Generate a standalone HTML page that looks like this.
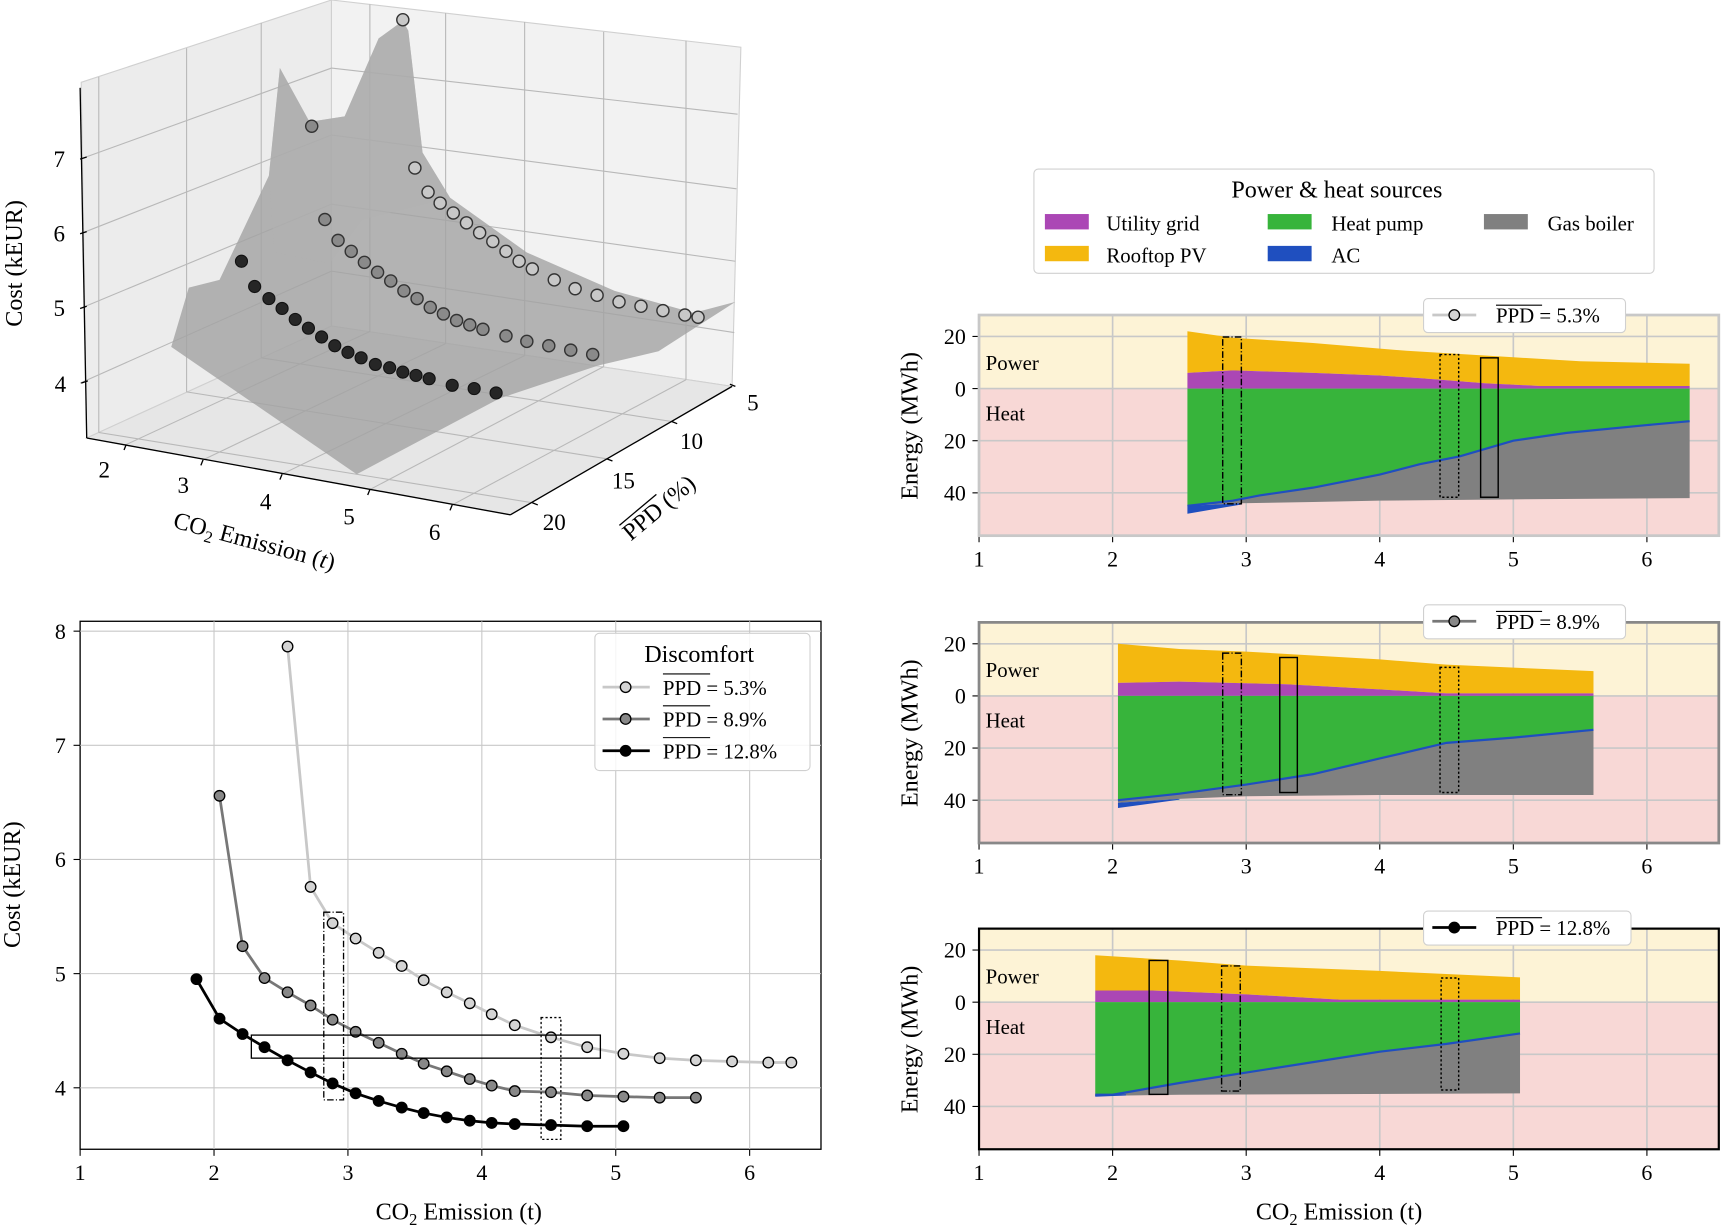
<!DOCTYPE html>
<html><head><meta charset="utf-8">
<style>
html,body{margin:0;padding:0;background:#fff;}
svg{display:block;}
text{font-family:"Liberation Serif",serif;fill:#000;}
</style></head>
<body>
<svg id="s" xmlns="http://www.w3.org/2000/svg" width="1721" height="1225" viewBox="0 0 1568 1116" preserveAspectRatio="none">
<polygon points="74,75 302,0 302,297 79,399" fill="#ececec" stroke="#d0d0d0"/>
<polygon points="302,0 675,43 667,352 302,297" fill="#f2f2f2" stroke="#d0d0d0"/>
<polygon points="79,399 302,297 667,352 465,469" fill="#e6e6e6" stroke="#d0d0d0"/>
<g stroke="#b8b8b8" stroke-width="1" fill="none">
<line x1="73" y1="145" x2="302" y2="62"/><line x1="73" y1="213" x2="302" y2="123"/>
<line x1="73" y1="281" x2="302" y2="186"/><line x1="73" y1="349" x2="302" y2="247"/>
<line x1="302" y1="62" x2="672" y2="104"/><line x1="302" y1="123" x2="671" y2="172"/>
<line x1="302" y1="186" x2="670" y2="238"/><line x1="302" y1="247" x2="669" y2="303"/>
<line x1="90" y1="70" x2="90" y2="394"/><line x1="170" y1="44" x2="170" y2="357"/><line x1="238" y1="21" x2="238" y2="326"/>
<line x1="337" y1="4" x2="337" y2="302"/><line x1="406" y1="12" x2="406" y2="313"/><line x1="478" y1="20" x2="478" y2="324"/><line x1="550" y1="29" x2="550" y2="334"/><line x1="625" y1="37" x2="625" y2="346"/>
<line x1="115" y1="405" x2="337" y2="302"/><line x1="185" y1="419" x2="406" y2="313"/><line x1="257" y1="432" x2="478" y2="324"/><line x1="337" y1="446" x2="550" y2="334"/><line x1="412" y1="460" x2="625" y2="346"/>
<line x1="612" y1="384" x2="238" y2="326"/><line x1="553" y1="418" x2="170" y2="357"/><line x1="485" y1="458" x2="90" y2="394"/>
</g>
<polygon points="156,316 172,262 200,255 245,160 255,62 282,111 314,106 345,35 367,19 372,28 385,139 410,180 480,230 560,265 632,285 670,275 600,320 545,333 455,363 325,432" fill="#a2a2a2" fill-opacity="0.8"/>
<polygon points="245,160 255,62 282,111 314,106 345,35 367,19 372,28 385,139 410,180 330,200 300,240 250,230" fill="#b0b0b0" fill-opacity="0.6"/>
<g stroke="#000" stroke-width="1.2">
<line x1="73" y1="80" x2="79" y2="399"/>
<line x1="79" y1="399" x2="465" y2="469"/>
<line x1="465" y1="469" x2="667" y2="352"/>
<line x1="73" y1="145" x2="79" y2="143"/><line x1="73" y1="213" x2="79" y2="211"/><line x1="73" y1="281" x2="79" y2="279"/><line x1="74" y1="349" x2="80" y2="347"/>
<line x1="115" y1="405" x2="113" y2="410"/><line x1="185" y1="419" x2="183" y2="424"/><line x1="257" y1="432" x2="255" y2="437"/><line x1="337" y1="446" x2="335" y2="451"/><line x1="412" y1="460" x2="410" y2="465"/>
<line x1="665" y1="350" x2="670" y2="352"/><line x1="612" y1="384" x2="617" y2="386"/><line x1="553" y1="418" x2="558" y2="420"/><line x1="485" y1="458" x2="490" y2="460"/>
</g>
<g font-size="21" text-anchor="middle">
<text x="54" y="152">7</text><text x="54" y="220">6</text><text x="54" y="288">5</text><text x="55" y="357">4</text>
<text x="95" y="435">2</text><text x="167" y="449">3</text><text x="242" y="464">4</text><text x="318" y="478">5</text><text x="396" y="492">6</text>
<text x="686" y="374">5</text><text x="630" y="409">10</text><text x="568" y="445">15</text><text x="505" y="483">20</text>
</g>
<text font-size="22" transform="translate(20,240) rotate(-90)" text-anchor="middle">Cost (kEUR)</text>
<text font-size="22" transform="translate(230,500) rotate(15)" text-anchor="middle">CO<tspan font-size="15" dy="5">2</tspan><tspan dy="-5"> Emission (</tspan><tspan font-style="italic">t</tspan>)</text>
<g transform="translate(605,468) rotate(-40)"><text font-size="22" text-anchor="middle">PPD (%)</text><line x1="-38" y1="-18" x2="6" y2="-18" stroke="#000" stroke-width="1.2"/></g>
<g id="dots3d"></g>

<rect x="73" y="566" width="675" height="481" fill="#fff" stroke="#000" stroke-width="1.2"/>
<g id="bl"></g>

<rect x="942" y="154" width="565" height="95" rx="4" fill="#fff" stroke="#d0d0d0"/>
<text x="1218" y="180" font-size="22" text-anchor="middle">Power &amp; heat sources</text>
<rect x="952" y="195" width="40" height="14" fill="#ab47b5"/><text x="1008" y="210" font-size="19">Utility grid</text>
<rect x="952" y="224" width="40" height="14" fill="#f4b80f"/><text x="1008" y="239" font-size="19">Rooftop PV</text>
<rect x="1155" y="195" width="40" height="14" fill="#37b43b"/><text x="1213" y="210" font-size="19">Heat pump</text>
<rect x="1155" y="224" width="40" height="14" fill="#1f4fbf"/><text x="1213" y="239" font-size="19">AC</text>
<rect x="1352" y="195" width="40" height="14" fill="#808080"/><text x="1410" y="210" font-size="19">Gas boiler</text>
<g id="panels"></g>
<text x="1220" y="1111" font-size="22" text-anchor="middle">CO<tspan font-size="15" dy="5">2</tspan><tspan dy="-5"> Emission (t)</tspan></text>
<text x="418" y="1111" font-size="22" text-anchor="middle">CO<tspan font-size="15" dy="5">2</tspan><tspan dy="-5"> Emission (t)</tspan></text>
</svg>
<script>
var NS="http://www.w3.org/2000/svg";
function el(p,tag,a,txt){var e=document.createElementNS(NS,tag);for(var k in a)e.setAttribute(k,a[k]);if(txt!==undefined)e.textContent=txt;p.appendChild(e);return e;}
var d3=document.getElementById('dots3d');
var L=[[367,18],[378,153],[390,175],[401,185],[413,194],[425,203],[437,212],[449,220],[461,229],[473,238],[485,245],[505,255],[524,263],[544,269],[564,275],[584,279],[604,283],[624,287],[636,289]];
var M=[[284,115],[296,200],[308,219],[320,229],[332,239],[344,248],[356,256],[368,265],[380,272],[392,280],[404,286],[416,292],[428,296],[440,300],[461,306],[480,311],[500,315],[520,319],[540,323]];
var D=[[220,238],[232,261],[245,272],[257,281],[269,291],[281,299],[293,307],[305,315],[317,321],[329,326],[342,332],[355,335],[367,339],[379,342],[391,345],[412,351],[432,354],[452,358]];
D.forEach(function(p){el(d3,'circle',{cx:p[0],cy:p[1],r:5.5,fill:'#262626',stroke:'#111','stroke-width':1});});
M.forEach(function(p){el(d3,'circle',{cx:p[0],cy:p[1],r:5.5,fill:'#8a8a8a',stroke:'#333','stroke-width':1.3});});
L.forEach(function(p){el(d3,'circle',{cx:p[0],cy:p[1],r:5.5,fill:'#c8c8c8',stroke:'#333','stroke-width':1.3});});
var bl=document.getElementById('bl');
var xs=[73,195,317,439,561,683];
xs.forEach(function(x,i){if(i>0)el(bl,'line',{x1:x,y1:566,x2:x,y2:1047,stroke:'#c8c8c8'});el(bl,'line',{x1:x,y1:1047,x2:x,y2:1053,stroke:'#000'});el(bl,'text',{x:x,y:1075,'font-size':20,'text-anchor':'middle'},String(i+1));});
[[8,575],[7,679],[6,783],[5,887],[4,991]].forEach(function(t){el(bl,'line',{x1:73,y1:t[1],x2:748,y2:t[1],stroke:'#c8c8c8'});el(bl,'line',{x1:67,y1:t[1],x2:73,y2:t[1],stroke:'#000'});el(bl,'text',{x:60,y:t[1]+7,'font-size':20,'text-anchor':'end'},String(t[0]));});
el(bl,'text',{'font-size':22,'text-anchor':'middle',transform:'translate(18,806) rotate(-90)'},'Cost (kEUR)');
var c1=[[262,589],[283,808],[303,841],[324,855],[345,868],[366,880],[386,893],[407,904],[428,914],[448,924],[469,934],[502,945],[535,954],[568,960],[601,964],[634,966],[667,967],[700,968],[721,968]];
var c2=[[200,725],[221,862],[241,891],[262,904],[283,916],[303,929],[324,940],[345,950],[366,960],[386,969],[407,976],[428,983],[448,989],[469,994],[502,995],[535,998],[568,999],[601,1000],[634,1000]];
var c3=[[179,892],[200,928],[221,942],[241,954],[262,966],[283,977],[303,987],[324,996],[345,1003],[366,1009],[386,1014],[407,1018],[428,1021],[448,1023],[469,1024],[502,1025],[535,1026],[568,1026]];
function curve(c,lc,fc,lw){el(bl,'polyline',{points:c.map(function(p){return p.join(',')}).join(' '),fill:'none',stroke:lc,'stroke-width':lw});c.forEach(function(p){el(bl,'circle',{cx:p[0],cy:p[1],r:4.8,fill:fc,stroke:'#000','stroke-width':1.2});});}
curve(c1,'#c8c8c8','#d4d4d4',2.5);curve(c2,'#777','#888',2.5);curve(c3,'#000','#000',2.5);
el(bl,'rect',{x:295,y:831,width:18,height:171,fill:'none',stroke:'#000','stroke-dasharray':'6,2,1,2','stroke-width':1.2});
el(bl,'rect',{x:493,y:927,width:18,height:111,fill:'none',stroke:'#000','stroke-dasharray':'2,2','stroke-width':1.2});
el(bl,'rect',{x:229,y:943,width:318,height:21,fill:'none',stroke:'#000','stroke-width':1.2});
el(bl,'rect',{x:542,y:577,width:196,height:125,rx:4,fill:'#fff','fill-opacity':0.85,stroke:'#d0d0d0'});
el(bl,'text',{x:637,y:603,'font-size':22,'text-anchor':'middle'},'Discomfort');
[['#c8c8c8','#d4d4d4','5.3%',626],['#777','#888','8.9%',655],['#000','#000','12.8%',684]].forEach(function(r){
el(bl,'line',{x1:549,y1:r[3],x2:592,y2:r[3],stroke:r[0],'stroke-width':2.5});
el(bl,'circle',{cx:570,cy:r[3],r:4.8,fill:r[1],stroke:'#000','stroke-width':1.2});
el(bl,'text',{x:604,y:r[3]+7,'font-size':19},'PPD = '+r[2]);
el(bl,'line',{x1:604,y1:r[3]-12,x2:647,y2:r[3]-12,stroke:'#000','stroke-width':1});});
var pg=document.getElementById('panels');
function X(t){return 892+(t-1)*121.7;}
function poly(a,b,y0){var pts=a.map(function(p){return X(p[0])+','+(y0-p[1]*2.375)});var r=b.slice().reverse().map(function(p){return X(p[0])+','+(y0-p[1]*2.375)});return pts.concat(r).join(' ');}
function panel(y0,frame,fw,D,rects,lg,mk,lab){
 var top=y0-67,bot=y0+134;
 el(pg,'rect',{x:892,y:top,width:674,height:67,fill:'#fdf3d6'});
 el(pg,'rect',{x:892,y:y0,width:674,height:134,fill:'#f8d8d6'});
 [1,2,3,4,5,6].forEach(function(t){el(pg,'line',{x1:X(t),y1:top,x2:X(t),y2:bot,stroke:'#c8c8c8','stroke-width':1.5});el(pg,'line',{x1:X(t),y1:bot,x2:X(t),y2:bot+6,stroke:'#000'});el(pg,'text',{x:X(t),y:bot+28,'font-size':20,'text-anchor':'middle'},String(t));});
 [20,0,-20,-40].forEach(function(v){var y=y0-v*2.375;el(pg,'line',{x1:892,y1:y,x2:1566,y2:y,stroke:'#c8c8c8','stroke-width':1.5});el(pg,'line',{x1:886,y1:y,x2:892,y2:y,stroke:'#000'});el(pg,'text',{x:880,y:y+7,'font-size':20,'text-anchor':'end'},String(Math.abs(v)));});
 var x0=D.o[0][0],x1=D.o[D.o.length-1][0];var zero=[[x0,0],[x1,0]];
 el(pg,'polygon',{points:poly(D.o,D.p,y0),fill:'#f4b80f'});
 el(pg,'polygon',{points:poly(D.p,zero,y0),fill:'#ab47b5'});
 el(pg,'polygon',{points:poly(zero,D.g,y0),fill:'#37b43b'});
 el(pg,'polygon',{points:poly(D.g,D.b,y0),fill:'#808080'});
 el(pg,'polygon',{points:poly(D.bw1,D.bw2,y0),fill:'#1f4fbf'});
 el(pg,'polyline',{points:D.g.map(function(p){return X(p[0])+','+(y0-p[1]*2.375)}).join(' '),fill:'none',stroke:'#1f4fbf','stroke-width':2});
 rects.forEach(function(r){var a={x:r[0],y:r[1],width:r[2]-r[0],height:r[3]-r[1],fill:'none',stroke:'#000','stroke-width':1.3};if(r[4])a['stroke-dasharray']=r[4];el(pg,'rect',a);});
 el(pg,'rect',{x:892,y:top,width:674,height:201,fill:'none',stroke:frame,'stroke-width':fw});
 el(pg,'text',{x:898,y:y0-17,'font-size':19},'Power');
 el(pg,'text',{x:898,y:y0+29,'font-size':19},'Heat');
 el(pg,'text',{'font-size':22,'text-anchor':'middle',transform:'translate(836,'+(y0+34)+') rotate(-90)'},'Energy (MWh)');
 el(pg,'rect',{x:lg[0],y:lg[1],width:lg[2],height:31,rx:4,fill:'#fff',stroke:'#d0d0d0'});
 el(pg,'line',{x1:lg[0]+8,y1:lg[1]+15,x2:lg[0]+48,y2:lg[1]+15,stroke:mk[0],'stroke-width':2.5});
 el(pg,'circle',{cx:lg[0]+28,cy:lg[1]+15,r:4.8,fill:mk[1],stroke:'#000','stroke-width':1.2});
 el(pg,'text',{x:lg[0]+66,y:lg[1]+22,'font-size':19},'PPD = '+lab);
 el(pg,'line',{x1:lg[0]+66,y1:lg[1]+6,x2:lg[0]+108,y2:lg[1]+6,stroke:'#000','stroke-width':1});
}
panel(354,'#c8c8c8',2.5,{
 o:[[2.56,22],[2.9,19.5],[3.5,17.5],[4.2,14.5],[5,12],[5.5,10.5],[6.32,9.5]],
 p:[[2.56,6],[2.9,7],[3.5,6],[4,5],[4.3,4],[4.8,2],[5.2,1],[6.32,1]],
 g:[[2.56,-45],[2.9,-43],[3.1,-41],[3.5,-38],[4,-33],[4.3,-29],[4.6,-26],[5,-20],[5.4,-17],[6,-14],[6.32,-12.5]],
 b:[[2.56,-45],[2.96,-44],[3.5,-43.5],[4,-43],[5,-42.5],[6.32,-42]],
 bw1:[[2.56,-45],[2.96,-44]],bw2:[[2.56,-48],[2.96,-44.5]]},
 [[1114,307,1131,459,'6,2,1,2'],[1312,323,1329,453,'2,2'],[1349,326,1365,453,null]],[1297,272,184],['#c8c8c8','#d4d4d4'],'5.3%');
panel(634,'#888',2.5,{
 o:[[2.04,20],[2.5,18],[3,17],[4,14],[4.5,12],[5.6,9.5]],
 p:[[2.04,5],[2.5,5.5],[3.3,4.5],[4,2.5],[4.5,1],[5.6,1]],
 g:[[2.04,-40],[2.5,-37.5],[3,-34],[3.5,-30],[4,-24],[4.5,-18],[5,-16],[5.6,-13]],
 b:[[2.04,-41],[2.5,-39.5],[3,-38.5],[4,-38],[5.6,-38]],
 bw1:[[2.04,-41],[2.5,-39.5]],bw2:[[2.04,-43],[2.5,-39.8]]},
 [[1114,595,1131,724,'6,2,1,2'],[1166,599,1182,722,null],[1312,608,1329,722,'2,2']],[1297,551,184],['#777','#888'],'8.9%');
panel(913,'#000',2,{
 o:[[1.87,18],[2.5,16],[3,14],[4,12],[5.05,9.5]],
 p:[[1.87,4.5],[2.3,4.5],[3,3],[3.7,1],[5.05,1]],
 g:[[1.87,-35.5],[2,-35.5],[2.5,-31],[3,-27],[3.5,-23],[4,-19],[4.5,-16],[5.05,-12]],
 b:[[1.87,-36],[2.5,-35.5],[5.05,-35]],
 bw1:[[1.87,-35.5],[2.1,-35.3]],bw2:[[1.87,-36.3],[2.1,-35.8]]},
 [[1047,875,1064,997,null],[1113,880,1130,994,'6,2,1,2'],[1313,891,1329,993,'2,2']],[1297,830,189],['#000','#000'],'12.8%');
</script>
</body></html>
